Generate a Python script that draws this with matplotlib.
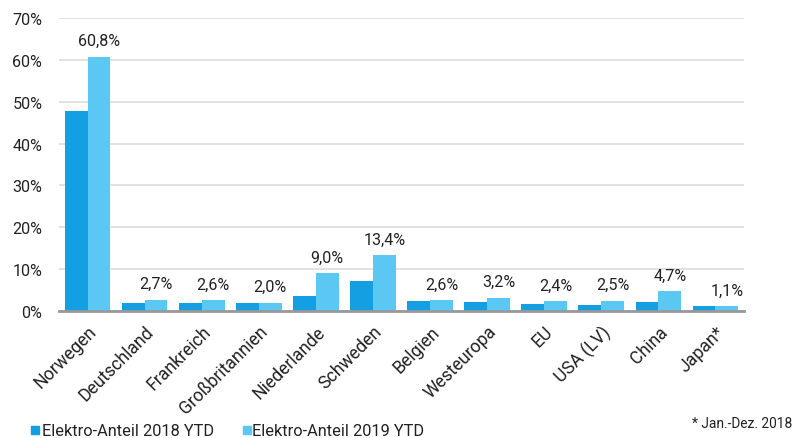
import matplotlib
matplotlib.use("Agg")
import matplotlib.pyplot as plt
import numpy as np
from matplotlib.patches import Rectangle

categories = ["Norwegen", "Deutschland", "Frankreich", "Großbritannien", "Niederlande",
              "Schweden", "Belgien", "Westeuropa", "EU", "USA (LV)", "China", "Japan*"]
share_2018 = [47.8, 2.0, 1.9, 1.8, 3.5, 7.1, 2.4, 2.2, 1.7, 1.4, 2.2, 1.2]
share_2019 = [60.8, 2.7, 2.6, 2.0, 9.0, 13.4, 2.6, 3.2, 2.4, 2.5, 4.7, 1.1]
labels_2019 = ["60,8%", "2,7%", "2,6%", "2,0%", "9,0%", "13,4%", "2,6%", "3,2%", "2,4%", "2,5%", "4,7%", "1,1%"]
yticks = [0, 10, 20, 30, 40, 50, 60, 70]
series_names = ["Elektro-Anteil 2018 YTD", "Elektro-Anteil 2019 YTD"]
footnote = "* Jan.-Dez. 2018"

c18 = "#139fe2"
c19 = "#5bc8f4"
colors = [c18, c19]

plt.rcParams['font.family'] = ['Roboto', 'DejaVu Sans']

W, H = 798, 439
fig = plt.figure(figsize=(W / 100, H / 100), dpi=100)
renderer = fig.canvas.get_renderer()

def fit_size(s, target_px, style='normal'):
    t = fig.text(0, 0, s, fontsize=10, style=style)
    wpx = t.get_window_extent(renderer).width
    t.remove()
    return 10 * target_px / wpx

fs_leg = fit_size(series_names[0], 172)
fs_tick = fit_size("Norwegen", 80)
fs_data = fit_size("60,8%", 42)
fs_y = fit_size("70%", 30)
fs_foot = fit_size(footnote, 100)

ax = fig.add_axes([59 / W, 1 - 312 / H, (744 - 59) / W, (312 - 19) / H])

x = np.arange(len(categories))
w = 0.4
ax.bar(x - w/2, share_2018, width=w, color=c18, zorder=3)
ax.bar(x + w/2, share_2019, width=w, color=c19, zorder=3)

for xi, v, lab in zip(x, share_2019, labels_2019):
    ax.text(xi + w/2, v + 2.0, lab, ha='center', va='bottom', fontsize=fs_data, color='#222222')

ax.set_xlim(-0.5, len(categories) - 0.5)
ax.set_ylim(0, 70)
ax.set_yticks(yticks)
ax.set_yticklabels([f"{t}%" for t in yticks], fontsize=fs_y, color='#222222')
ax.yaxis.grid(True, color='#dddddd', linewidth=1.2, zorder=0)
ax.set_axisbelow(True)
for s in ['top', 'right', 'left']:
    ax.spines[s].set_visible(False)
ax.spines['bottom'].set_color('#999999')
ax.spines['bottom'].set_linewidth(2)
ax.spines['bottom'].set_zorder(4)
ax.tick_params(axis='y', length=0, pad=12)
ax.tick_params(axis='x', length=0, pad=8)
ax.set_xticks(x)
ax.set_xticklabels(categories, rotation=45, ha='right', rotation_mode='anchor',
                   fontsize=fs_tick, color='#222222')

# legend (manually placed)
leg_sq_x = [31, 243]
leg_txt_x = [42, 252]
for sx, tx, col, name in zip(leg_sq_x, leg_txt_x, colors, series_names):
    fig.add_artist(Rectangle((sx / W, (H - 435) / H), 8 / W, 8 / H,
                             transform=fig.transFigure, color=col))
    fig.text(tx / W, (H - 436) / H, name, ha='left', va='baseline',
             fontsize=fs_leg, color='#222222')

fig.text(792 / W, (H - 428) / H, footnote, ha='right', va='baseline', fontsize=fs_foot, color='#222222')

fig.savefig("out.png", dpi=100)
